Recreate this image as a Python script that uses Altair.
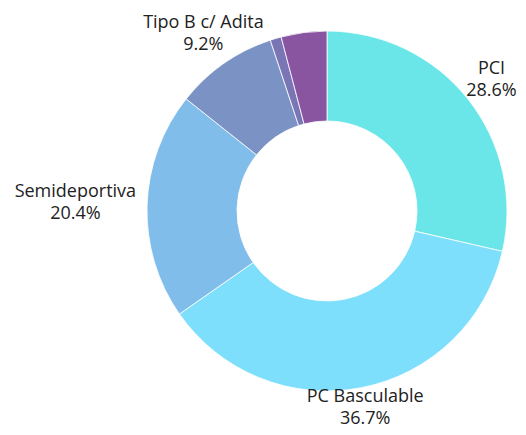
import math
import altair as alt
import pandas as pd

categories = ["PCI", "PC Basculable", "Semideportiva", "Tipo B c/ Adita", "Otros A", "Otros B"]
values = [28.6, 36.7, 20.4, 9.2, 1.0, 4.1]
colors = ["#6be6e8", "#7ddffb", "#80bdea", "#7b92c4", "#7a76b6", "#8a55a0"]
show_label = [True, True, True, True, False, False]

W, H = 510, 419
CX, CY = 319, 203
LH = 22

total = sum(values)
rows = []
cum = 0.0
for i, (c, v) in enumerate(zip(categories, values)):
    mid = (cum + v / 2) / total * 2 * math.pi
    cum += v
    pct = f"{v:.1f}%"
    hw = max(len(c), len(pct)) * 4.7
    r = 206 + 0.75 * hw * abs(math.sin(mid)) ** 3
    s, co = math.sin(mid), math.cos(mid)
    if s > 0:
        r = min(r, (W - CX - hw - 3) / s)
    if co < 0:
        r = min(r, (H - CY - LH / 2 - 8) / -co)
    rows.append({
        "cat": c, "value": v, "order": i, "mid": mid,
        "label": f"{c}\n{pct}", "show": show_label[i],
        "lr": r,
    })
df = pd.DataFrame(rows)

arcs = alt.Chart(df).mark_arc(innerRadius=90, outerRadius=180, stroke="white", strokeWidth=0.8).encode(
    theta=alt.Theta("value:Q", stack=True),
    order=alt.Order("order:Q"),
    color=alt.Color("cat:N", scale=alt.Scale(domain=categories, range=colors), legend=None),
    x=alt.value(CX), y=alt.value(CY),
)

labels = alt.Chart(df).transform_filter("datum.show").mark_text(
    font="Open Sans", fontSize=18, color="#222222", lineBreak="\n", lineHeight=LH,
    align="center", baseline="middle", dy=-LH / 2,
).encode(
    theta=alt.Theta("mid:Q", scale=None, stack=None),
    radius=alt.Radius("lr:Q", scale=None),
    text="label:N",
    x=alt.value(CX), y=alt.value(CY),
)

chart = (arcs + labels).properties(
    width=W, height=H, autosize=alt.AutoSizeParams(type="none"), padding=0,
).configure_view(stroke=None)

chart.save("out.html", embed_options={"renderer": "svg", "actions": False})
